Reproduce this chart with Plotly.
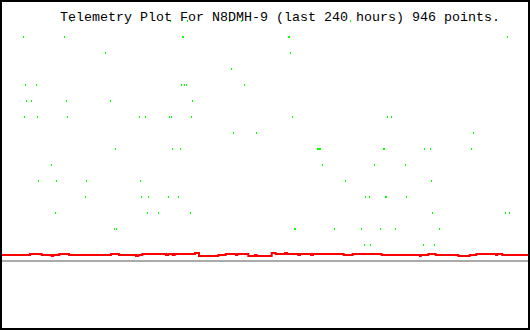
import plotly.graph_objects as go

TITLE = "Telemetry Plot For N8DMH-9 (last 240 hours) 946 points."

# Green telemetry samples: hours (0..240) per discrete level
lvl15 = [31.71, 76.88, 84.64, 103.80, 109.28, 159.01, 215.59]
lvl14 = [9.81, 28.52, 82.36, 82.81, 130.72, 131.18, 230.65]
lvl13 = [47.22, 131.63]
lvl12 = [104.72]
lvl11 = [10.72, 15.74, 81.90, 83.27, 84.18, 110.65]
lvl10 = [11.18, 13.46, 29.43, 49.51, 86.92]
lvl9 = [10.27, 16.20, 29.89, 62.74, 65.48, 76.43, 77.34, 86.46, 132.55, 175.89, 177.72]
lvl8 = [105.63, 116.12, 215.13]
lvl7 = [51.79, 77.80, 81.44, 143.95, 144.41, 144.87, 145.32, 174.07, 174.52, 192.78, 195.51, 214.22]
lvl6 = [22.59, 146.24, 169.96, 184.11]
lvl5 = [16.65, 24.87, 38.56, 63.19, 156.73, 195.97]
lvl4 = [38.10, 63.65, 66.84, 75.97, 80.53, 165.86, 167.68, 174.98, 175.44, 184.56]
lvl3 = [24.41, 66.39, 71.41, 86.01, 196.43, 229.73, 231.56]
lvl2 = [51.33, 52.24, 133.46, 133.92, 151.71, 164.03, 172.70, 179.54, 199.62]
lvl1 = [165.40, 168.14, 192.32, 197.34]

# Red series: step change times (hours) and values
red_hours = [0, 12.78, 18.11, 22.68, 23.41, 26.14, 30.57, 49.73, 53.38, 61.14, 62.19,
             64.02, 74.83, 75.88, 77.89, 78.80, 88.06, 89.89, 98.69, 102.07, 106.77,
             107.36, 112.38, 115.44, 116.21, 123.06, 124.88, 129.13, 130.04, 135.19,
             135.97, 140.99, 141.90, 155.91, 160.02, 173.25, 190.72, 191.04, 194.51,
             197.89, 208.20, 213.40, 216.41, 225.40, 225.99, 228.27, 240]
red_values = [0.375, 0.4375, 0.375, 0.3125, 0.375, 0.4375, 0.375, 0.4375, 0.375, 0.3125, 0.375,
              0.4375, 0.375, 0.4375, 0.375, 0.4375, 0.5, 0.3125, 0.375, 0.4375, 0.375,
              0.4375, 0.3125, 0.375, 0.3125, 0.5, 0.4375, 0.5, 0.4375, 0.375,
              0.4375, 0.375, 0.4375, 0.375, 0.4375, 0.375, 0.3125, 0.375, 0.4375,
              0.375, 0.3125, 0.375, 0.4375, 0.375, 0.4375, 0.375, 0.375]

levels = {15: lvl15, 14: lvl14, 13: lvl13, 12: lvl12, 11: lvl11, 10: lvl10, 9: lvl9,
          8: lvl8, 7: lvl7, 6: lvl6, 5: lvl5, 4: lvl4, 3: lvl3, 2: lvl2, 1: lvl1}
gx, gy = [], []
for lv, hrs in levels.items():
    gx += hrs
    gy += [lv] * len(hrs)

fig = go.Figure()
fig.add_trace(go.Scatter(
    x=red_hours, y=red_values, mode="lines",
    line=dict(color="#ff0000", width=2, shape="hv"), hoverinfo="skip"))
fig.add_trace(go.Scatter(
    x=gx, y=gy, mode="markers",
    marker=dict(symbol="line-ns", size=1.43, color="#00ff00",
                line=dict(width=1, color="#00ff00")),
    cliponaxis=False, hoverinfo="skip"))

k = 240 / 526
fig.update_layout(
    width=530, height=330,
    margin=dict(l=0, r=0, t=0, b=0),
    paper_bgcolor="white", plot_bgcolor="white",
    showlegend=False,
    xaxis=dict(range=[-2 * k, -2 * k + 530 * k], visible=False, fixedrange=True),
    yaxis=dict(range=[-69 / 16, 261 / 16], visible=False, fixedrange=True),
    shapes=[
        dict(type="line", xref="paper", yref="y", x0=0, x1=1, y0=0, y1=0,
             line=dict(color="#aaaaaa", width=2), layer="below"),
        dict(type="rect", xref="paper", yref="paper", x0=0, x1=1, y0=0, y1=1,
             line=dict(color="black", width=4)),
    ],
    annotations=[dict(
        text=TITLE, xref="paper", yref="paper",
        x=280 / 530, y=1 - 17.5 / 330, xanchor="center", yanchor="middle",
        showarrow=False,
        font=dict(family="Liberation Mono", size=13.33, color="black"))],
)

fig.write_html("out.html")
